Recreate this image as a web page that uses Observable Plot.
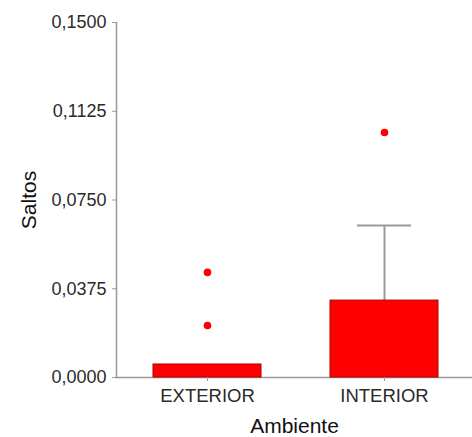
<!DOCTYPE html>
<html>
<head>
<meta charset="utf-8">
<script src="https://cdn.jsdelivr.net/npm/d3@7"></script>
<script src="https://cdn.jsdelivr.net/npm/@observablehq/plot@0.6"></script>
<style>
  html, body { margin: 0; padding: 0; background: #fff; }
  #chart svg { display: block; }
</style>
</head>
<body>
<div id="chart"></div>
<script>
// Mean jumps per environment, with the upper error bar and outliers
const ambientes = ["EXTERIOR", "INTERIOR"];
const medias = [0.0055, 0.0325];
const erroresSup = [null, 0.0642];

const atipicosAmbiente = ["EXTERIOR", "EXTERIOR", "INTERIOR"];
const atipicosValor = [0.0444, 0.0220, 0.1035];

const yTicks = [0, 0.0375, 0.075, 0.1125, 0.15];

const barras = ambientes.map((a, i) => ({ambiente: a, media: medias[i], sup: erroresSup[i]}));
const errores = barras.filter(d => d.sup != null);
const atipicos = atipicosAmbiente.map((a, i) => ({ambiente: a, valor: atipicosValor[i]}));

const fmt = d => d.toFixed(4).replace(".", ",");

const chart = Plot.plot({
  width: 472,
  height: 437,
  marginLeft: 116,
  marginRight: 0,
  marginTop: 22,
  marginBottom: 60,
  style: {fontFamily: "'Liberation Sans', Arial, sans-serif", background: "#fff"},
  x: {domain: ambientes, range: [118.5, 473], paddingInner: 0.39, paddingOuter: 0.194},
  y: {domain: [0, 0.15]},
  marks: [
    Plot.frame({anchor: "left", stroke: "#999", strokeWidth: 1.5}),
    Plot.frame({anchor: "bottom", stroke: "#999", strokeWidth: 1.5}),
    Plot.ruleX(errores, {x: "ambiente", y1: "media", y2: "sup", stroke: "#9a9a9a", strokeWidth: 2}),
    Plot.tickY(errores, {x: "ambiente", y: "sup", stroke: "#9a9a9a", strokeWidth: 2, insetLeft: 27, insetRight: 27}),
    Plot.barY(barras, {x: "ambiente", y: "media", fill: "#ff0000", stroke: "#b00000", strokeWidth: 1}),
    Plot.dot(atipicos, {x: "ambiente", y: "valor", r: 3.8, fill: "#ff0000", stroke: "none"}),
    Plot.axisY({
      ticks: yTicks, tickFormat: fmt, tickSize: 4, tickPadding: 6,
      stroke: "#999", fill: "#2a2a2a", fontSize: 18,
      label: "Saltos", labelAnchor: "center", labelOffset: 95, labelArrow: "none"
    }),
    Plot.axisX({
      tickSize: 4, tickPadding: 7,
      stroke: "#999", fill: "#2a2a2a", fontSize: 18.5,
      label: null
    }),
    Plot.axisX({
      ticks: [], tickSize: 0,
      label: "Ambiente", labelAnchor: "center", labelOffset: 55, labelArrow: "none"
    })
  ]
});

// Axis titles in the larger size
chart.querySelectorAll("[aria-label='y-axis label'], [aria-label='x-axis label']").forEach(g => {
  g.setAttribute("font-size", "21");
  g.setAttribute("fill", "#111");
});

document.getElementById("chart").append(chart);
</script>
</body>
</html>
